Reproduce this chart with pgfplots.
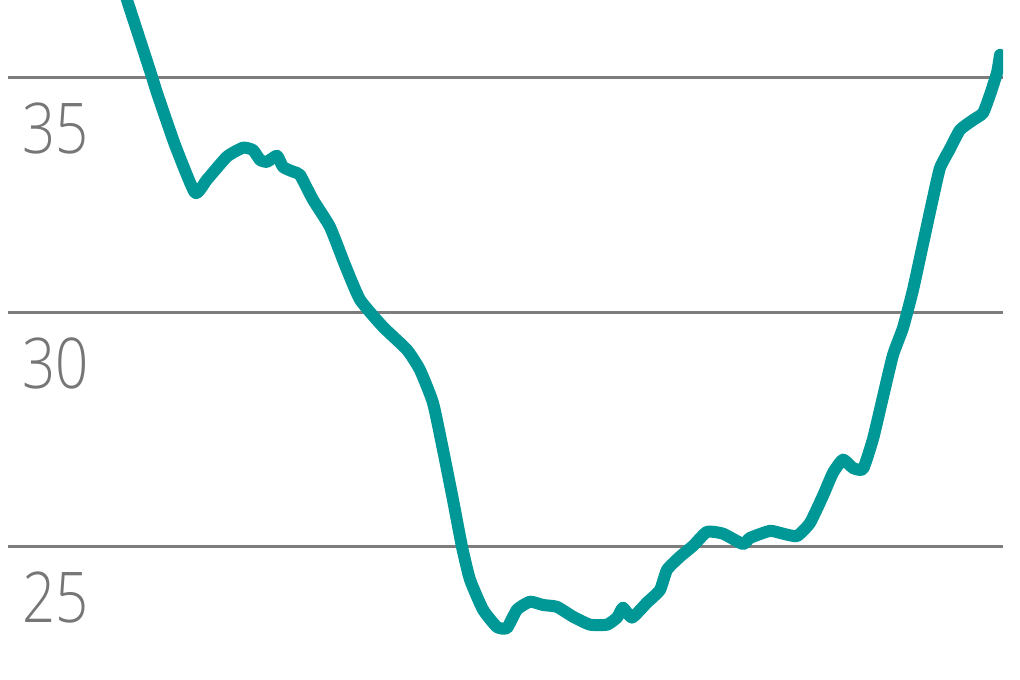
\documentclass[border=0pt]{standalone}
\usepackage{pgfplots}
\pgfplotsset{compat=1.18}
\usepackage{fontspec}
\IfFontExistsTF{Open Sans Light}{\newfontfamily\labfont[FakeStretch=0.83]{Open Sans Light}}{\newfontfamily\labfont[FakeStretch=0.83]{Open Sans}}
\definecolor{teal1}{RGB}{0,152,150}
\definecolor{gridg}{RGB}{125,125,125}
\definecolor{labg}{RGB}{118,118,118}
\begin{document}
\begin{tikzpicture}
\path[use as bounding box] (0,0) rectangle (1020bp,680bp);
\begin{axis}[
  at={(8bp,0bp)}, anchor=south west,
  scale only axis, width=995bp, height=680bp,
  xmin=8, xmax=1003, ymin=22.16, ymax=36.66,
  axis line style={draw=none},
  xtick=\empty, ytick={25,30,35},
  major tick length=0pt,
  ymajorgrids, grid style={gridg, line width=3.2bp},
  yticklabel style={anchor=base west, inner sep=0pt, xshift=14bp, yshift=-76bp,
     font=\labfont\fontsize{70bp}{80bp}\selectfont, text=labg},
  /pgf/number format/assume math mode=true,
  clip=true,
]
\addplot[teal1, line width=12bp, line join=round, line cap=round, smooth, tension=0.3] coordinates {
(117,37.30) (127,36.66) (140,35.81) (152,35.02) (157,34.68) (175,33.57) (195,32.55)
(207,32.83) (227,33.32) (243,33.51) (253,33.46) (260,33.25) (267,33.21) (277,33.34)
(283,33.10) (293,33.00) (300,32.93) (313,32.40) (330,31.82) (345,31.01) (360,30.27)
(383,29.69) (407,29.20) (420,28.77) (433,28.07) (443,27.07) (453,26.00) (462,25.00)
(470,24.30) (483,23.66) (497,23.29) (507,23.27) (517,23.66) (530,23.83) (543,23.76)
(557,23.72) (573,23.51) (590,23.34) (607,23.34) (617,23.49) (623,23.70) (632,23.49)
(647,23.81) (660,24.08) (667,24.51) (680,24.79) (693,25.02) (707,25.32) (723,25.28)
(743,25.06) (750,25.19) (770,25.34) (783,25.28) (797,25.23) (810,25.51) (823,26.09)
(833,26.58) (843,26.86) (853,26.68) (863,26.66) (873,27.30) (883,28.20) (893,29.09)
(903,29.67) (913,30.48) (923,31.46) (933,32.44) (940,33.08) (950,33.49) (960,33.89)
(973,34.10) (983,34.25) (990,34.64) (997,35.11) (1000,35.49)
};
\end{axis}
\end{tikzpicture}
\end{document}
